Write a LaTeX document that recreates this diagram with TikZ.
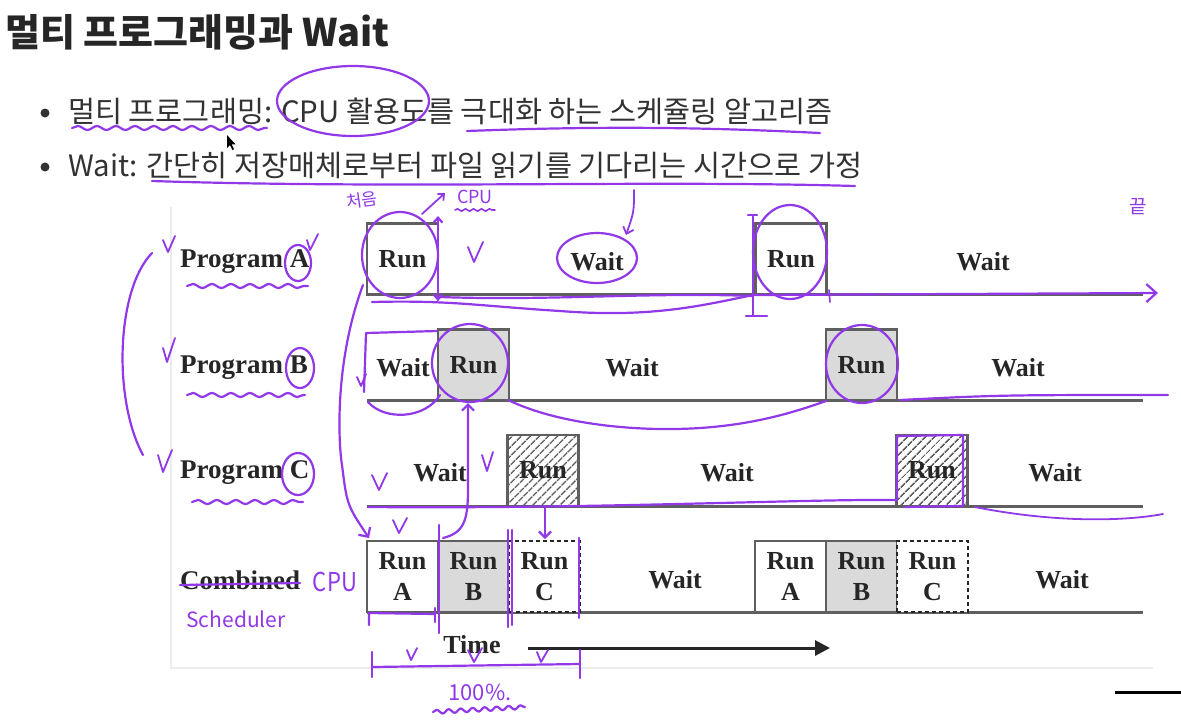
\documentclass[tikz,border=0pt]{standalone}
\usepackage{fontspec}
\setmainfont{Liberation Serif}
\newfontfamily\kr{Noto Sans CJK KR}
\usetikzlibrary{patterns.meta,arrows.meta,decorations.pathmorphing}
\definecolor{pen}{RGB}{145,56,232}
\definecolor{ink}{RGB}{38,38,38}
\definecolor{txt}{RGB}{50,50,50}
\definecolor{edge}{RGB}{95,95,95}
\definecolor{runfill}{RGB}{218,218,218}
\definecolor{panel}{RGB}{236,236,236}
\newcommand\figfont{\fontsize{26}{31}\selectfont\bfseries}
\newcommand\lblfont{\fontsize{27}{31}\selectfont\bfseries}
\tikzset{
  runbox/.style={draw=edge, fill=white, line width=2.2pt, minimum width=71pt, minimum height=71pt, inner sep=0pt, font=\figfont, text=ink, align=center},
  graybox/.style={runbox, fill=runfill},
  hatchbox/.style={runbox, pattern={Lines[angle=45,distance=6.5pt,line width=1.6pt]}, pattern color=edge},
  dashbox/.style={runbox, dash pattern=on 4pt off 3pt, draw=ink},
  figtext/.style={font=\figfont, text=ink, inner sep=0pt},
  lbltext/.style={font=\lblfont, text=ink, inner sep=0pt, anchor=west},
  baseln/.style={draw=edge, line width=3pt},
  hand/.style={draw=pen, line width=2.2pt, line cap=round, line join=round},
  wavy/.style={hand, decorate, decoration={snake, amplitude=2pt, segment length=19pt}},
  handtxt/.style={text=pen, inner sep=0pt},
  chk/.style={hand, line width=1.8pt}
}
\begin{document}
\begin{tikzpicture}[x=1pt,y=-1pt]
\useasboundingbox (0,0) rectangle (1181,724);
\fill[white] (0,0) rectangle (1181,724);

% ---------- header text ----------
\node[anchor=west, inner sep=0pt, text=ink, font=\kr\bfseries\fontsize{38}{42}\selectfont] (title) at (5,32) {멀티 프로그래밍과 Wait};
\fill[txt] (45,113) circle (4.5pt);
\fill[txt] (45,167) circle (4.5pt);
\node[anchor=west, inner sep=0pt, text=txt, font=\kr\fontsize{29.4}{32}\selectfont] (b1) at (68,111) {멀티 프로그래밍: CPU 활용도를 극대화 하는 스케쥴링 알고리즘};
\node[anchor=west, inner sep=0pt, text=txt, font=\kr\fontsize{29.4}{32}\selectfont] (b2) at (68,165) {Wait: 간단히 저장매체로부터 파일 읽기를 기다리는 시간으로 가정};
% mouse pointer
\fill[black] (227,135) -- (227,148) -- (230,145) -- (232.5,150) -- (234,149.2) -- (231.6,144.3) -- (235.5,144.3) -- cycle;

% ---------- figure panel ----------
\draw[panel, line width=1.2pt] (171,207) -- (171,668) -- (1153,668);

% baselines
\coordinate (sa) at (367,294.5); \coordinate (ea) at (1143,294.5);
\coordinate (sb) at (367,400.5); \coordinate (eb) at (1143,400.5);
\coordinate (sc) at (367,506);   \coordinate (ec) at (1143,506);
\coordinate (sd) at (367,612);   \coordinate (ed) at (1143,612);
\draw[baseln] (sa) -- (ea);
\draw[baseln] (sb) -- (eb);
\draw[baseln] (sc) -- (ec);
\draw[baseln] (sd) -- (ed);

% labels
\node[lbltext] (la) at (180,262) {Program A};
\node[lbltext] (lb) at (180,368) {Program B};
\node[lbltext] (lc) at (180,473) {Program C};
\node[lbltext] (ld) at (180,580) {Combined};

% row A
\node[runbox] (ra1) at (402.5,259) {Run};
\node[runbox] (ra2) at (791,259) {Run};
\node[figtext] (wa1) at (597,262) {Wait};
\node[figtext] (wa2) at (983,262) {Wait};
% row B
\node[graybox] (rb1) at (473.5,365) {Run};
\node[graybox] (rb2) at (861.5,365) {Run};
\node[figtext] (wb1) at (403,368) {Wait};
\node[figtext] (wb2) at (632,368) {Wait};
\node[figtext] (wb3) at (1018,368) {Wait};
% row C
\node[hatchbox] (rc1) at (543,470.5) {Run};
\node[hatchbox] (rc2) at (932,470.5) {Run};
\node[figtext] (wc1) at (440,473) {Wait};
\node[figtext] (wc2) at (727,473) {Wait};
\node[figtext] (wc3) at (1055,473) {Wait};
% combined
\node[runbox] (ca1) at (402.5,576.5) {Run\\A};
\node[graybox] (cb1) at (473.5,576.5) {Run\\B};
\node[dashbox] (cc1) at (544.5,576.5) {Run\\C};
\node[runbox] (ca2) at (790.5,576.5) {Run\\A};
\node[graybox] (cb2) at (861.5,576.5) {Run\\B};
\node[dashbox] (cc2) at (932.5,576.5) {Run\\C};
\node[figtext] (wd1) at (675,580) {Wait};
\node[figtext] (wd2) at (1062,580) {Wait};
% time axis
\node[figtext] (time) at (472,645) {Time};
\coordinate (t0) at (528,648);
\coordinate (t1) at (830,648);
\draw[draw=ink, line width=3pt, -{Triangle[length=15pt,width=15pt]}] (t0) -- (t1);

% bottom-right black line
\coordinate (k0) at (1115,692); \coordinate (k1) at (1181,692);
\draw[black, line width=3pt] (k0) -- (k1);

% ---------- handwritten annotations ----------
% header
\draw[wavy] (72,128) -- (267,128);
\draw[hand] (353,101) ellipse [x radius=76pt, y radius=35pt];
\draw[hand] (467,131) .. controls (600,126) and (700,127) .. (820,133);
\draw[hand] (152,181) .. controls (400,189) and (650,180) .. (855,186);
\node[handtxt, font=\kr\fontsize{17}{17}\selectfont, rotate=8] (cheo) at (362,200) {처음};
\node[handtxt, font=\kr\fontsize{18}{18}\selectfont] (cpu1) at (475,197) {CPU};
\draw[hand, line width=1.6pt, decorate, decoration={snake, amplitude=1.2pt, segment length=8pt}] (455,210) -- (495,210);
\draw[hand, line width=1.8pt, -{Straight Barb[length=5pt,width=9pt]}] (422,214) -- (445,193);
\node[handtxt, font=\kr\fontsize{19}{19}\selectfont] (kkeut) at (1138,207) {끝};

% left bracket and checks
\draw[hand] (152,253) .. controls (116,290) and (113,400) .. (143,455);
\draw[chk] (163,240) -- (168,252) -- (175,236);
\draw[chk] (163,348) -- (167,362) -- (175,338);
\draw[chk] (158,455) -- (163,472) -- (172,450);
\draw[chk] (307,240) -- (310,250) -- (318,234);
\draw[hand] (298,263) ellipse [x radius=13pt, y radius=18pt];
\draw[hand] (300,368) ellipse [x radius=14pt, y radius=20pt];
\draw[hand] (298,474) ellipse [x radius=16pt, y radius=21pt];
\draw[wavy] (187,286) -- (308,286);
\draw[wavy] (187,395) -- (305,395);
\draw[wavy] (192,502) -- (303,502);

% row A
\draw[hand] (400,255) ellipse [x radius=38pt, y radius=43pt];
\draw[hand, -{Straight Barb[length=5pt,width=9pt]}] (438,300) -- (438,216);
\draw[hand, -{Straight Barb[length=5pt,width=9pt]}] (438,260) -- (438,301);
\draw[chk] (468,247) -- (474,262) -- (483,242);
\draw[hand] (597,258) ellipse [x radius=40pt, y radius=25pt];
\draw[hand, line width=1.8pt, -{Straight Barb[length=6pt,width=11pt]}] (634,190) .. controls (634,212) .. (626,235);
\draw[hand] (372,302) .. controls (450,300) and (480,306) .. (560,311) .. controls (650,318) and (700,306) .. (753,295);
\draw[hand] (440,297) .. controls (550,301) and (650,292) .. (753,296);
\draw[hand, -{Straight Barb[length=10pt,width=18pt]}] (753,295) -- (1158,293);
\draw[hand] (748,215) -- (757,215);
\draw[hand] (753,215) -- (753,316);
\draw[hand] (746,316) -- (767,316);
\draw[hand] (790,252) ellipse [x radius=37pt, y radius=47pt];
\draw[hand, line width=1.6pt] (829,290) -- (830,302);

% row B
\draw[hand] (437,331) -- (366,333) -- (364,392);
\draw[chk] (357,377) -- (361,386) -- (366,374);
\draw[hand] (368,402) .. controls (385,421) and (425,419) .. (440,395);
\draw[hand] (470,363) ellipse [x radius=38pt, y radius=39pt];
\draw[hand, -{Straight Barb[length=6pt,width=12pt]}] (443,538) .. controls (463,533) and (468,522) .. (468,490) -- (468,403);
\draw[hand] (508,400) .. controls (560,425) and (640,432) .. (700,428) .. controls (760,424) and (800,410) .. (826,401);
\draw[hand] (862,364) ellipse [x radius=36pt, y radius=39pt];
\draw[hand] (900,400) .. controls (1000,395) .. (1168,395);

% row C
\draw[hand, -{Straight Barb[length=7pt,width=14pt]}] (363,285) .. controls (335,360) and (338,440) .. (342,465) .. controls (347,505) .. (369,538);
\draw[chk] (372,475) -- (379,490) -- (387,473);
\draw[chk] (482,455) -- (487,471) -- (493,452);
\draw[hand] (368,507) .. controls (600,509) and (800,499) .. (897,500);
\draw[hand] (897,500) -- (897,436) -- (963,435) -- (963,506) -- (905,507);
\draw[hand, line width=1.8pt] (975,507) .. controls (1050,522) and (1120,522) .. (1163,514);

% combined
\draw[chk] (393,520) -- (399,533) -- (407,518);
\draw[hand, -{Straight Barb[length=6pt,width=12pt]}] (545,508) -- (545,539);
\draw[hand] (439,525) -- (439,633);
\draw[hand] (508,530) -- (508,627);
\draw[hand] (512,530) -- (512,625);
\draw[hand] (579,538) -- (579,618);
\draw[hand] (369,625) -- (369,613) -- (435,614);
\draw[hand] (435,608) -- (435,622);
\node[handtxt, font=\kr\fontsize{26}{26}\selectfont, xscale=0.85] (cpu2) at (335,582) {CPU};
\draw[hand] (180,585) -- (300,583);
\node[handtxt, font=\kr\fontsize{21}{21}\selectfont] (sched) at (236,619) {Scheduler};
\draw[hand] (372,652) -- (372,677);
\draw[hand] (372,667) -- (580,664);
\draw[hand] (580,650) -- (580,678);
\draw[chk] (407,650) -- (411,660) -- (417,648);
\draw[chk] (468,650) -- (474,662) -- (482,648);
\draw[chk] (537,652) -- (541,662) -- (548,650);
\node[handtxt, font=\kr\fontsize{22}{22}\selectfont] (pct) at (480,692) {100\%.};
\draw[wavy, segment length=12pt] (433,712) -- (525,707);
\end{tikzpicture}
\end{document}
